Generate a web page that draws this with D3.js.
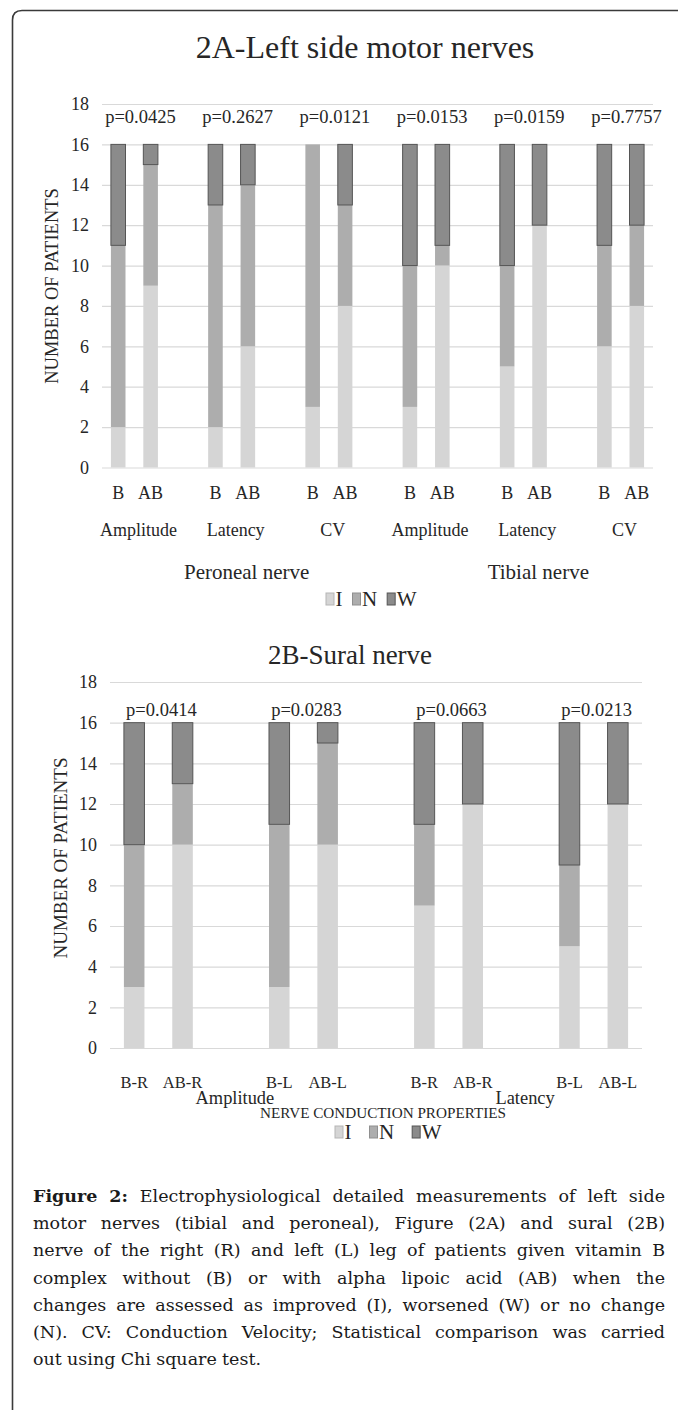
<!DOCTYPE html>
<html><head><meta charset="utf-8">
<script src="https://cdn.jsdelivr.net/npm/d3@7"></script>
<style>body{margin:0;background:#fff} svg{display:block}</style>
</head><body>
<svg id="fig" width="678" height="1410"></svg>
<script>
// ---------------- data ----------------
const topGroups = ["Amplitude","Latency","CV","Amplitude","Latency","CV"];
const topNerves = ["Peroneal nerve","Tibial nerve"];
const topTreat = ["B","AB"];
const topP = ["p=0.0425","p=0.2627","p=0.0121","p=0.0153","p=0.0159","p=0.7757"];
const topI = [2,9, 2,6, 3,8, 3,10, 5,12, 6,8];
const topN = [9,6, 11,8, 13,5, 7,1, 5,0, 5,4];
const topW = [5,1, 3,2, 0,3, 6,5, 6,4, 5,4];

const botGroups = ["Amplitude","Latency"];
const botTreat = ["B-R","AB-R","B-L","AB-L"];
const botP = ["p=0.0414","p=0.0283","p=0.0663","p=0.0213"];
const botI = [3,10, 3,10, 7,12, 5,12];
const botN = [7,3, 8,5, 4,0, 4,0];
const botW = [6,3, 5,1, 5,4, 7,4];

const yTicks = [0,2,4,6,8,10,12,14,16,18];
const seriesKeys = ["I","N","W"];
const seriesColor = {I:"#d5d5d5", N:"#adadad", W:"#8b8b8b"};
const seriesStroke = {I:"#b5b5b5", N:"#8f8f8f", W:"#555555"};

const captionLines = [
  "Figure 2: Electrophysiological detailed measurements of left side",
  "motor nerves (tibial and peroneal), Figure (2A) and sural (2B)",
  "nerve of the right (R) and left (L) leg of patients given vitamin B",
  "complex without (B) or with alpha lipoic acid (AB) when the",
  "changes are assessed as improved (I), worsened (W) or no change",
  "(N). CV: Conduction Velocity; Statistical comparison was carried",
  "out using Chi square test."
];

// ---------------- drawing ----------------
const svg = d3.select("#fig");
const SERIF = "'Liberation Serif','Times New Roman',serif";
const TXT = "#262626";

// frame
svg.append("path")
  .attr("d","M12.5,1410 V20 Q12.5,10.5 22,10.5 H678")
  .attr("fill","none").attr("stroke","#3a3a3a").attr("stroke-width",1.6);

function drawChart(o){
  const g = svg.append("g");
  const bars = [], slots = [];
  o.pairs.forEach((labs,p)=>{
    labs.forEach((lab,j)=>{
      const i = bars.length;
      const key = "b"+i;
      slots.push(key);
      bars.push({key, pair:p, label:lab, I:o.I[i], N:o.N[i], W:o.W[i]});
    });
    if(p < o.pairs.length-1) slots.push("gap"+p);
  });
  const x = d3.scaleBand().domain(slots).range([o.x0,o.x1])
    .paddingInner(o.pad).paddingOuter(o.pad/2);
  const y = d3.scaleLinear().domain([0,18]).range([o.yBase,o.yTop]);

  const ax = g.append("g").attr("transform",`translate(${o.x0},0)`)
    .call(d3.axisLeft(y).tickValues(yTicks).tickSize(-(o.x1-o.x0)).tickPadding(o.tickPad));
  ax.select(".domain").remove();
  ax.selectAll(".tick line").attr("stroke","#d9d9d9").attr("stroke-width",1.2);
  ax.selectAll(".tick text").attr("font-family",SERIF).attr("font-size",o.tickFont).attr("fill",TXT);

  const stack = d3.stack().keys(seriesKeys)(bars);
  stack.forEach(layer=>{
    g.append("g").selectAll("rect").data(layer.filter(d=>d[1]-d[0]>0)).join("rect")
      .attr("x",d=>x(d.data.key)).attr("width",x.bandwidth())
      .attr("y",d=>y(d[1])).attr("height",d=>y(d[0])-y(d[1]))
      .attr("fill",seriesColor[layer.key])
      .attr("stroke",layer.key==="W"?seriesStroke.W:"none")
      .attr("stroke-width",layer.key==="W"?1:0);
  });

  const cx = k => x(k)+x.bandwidth()/2;
  const pairCenter = p => {
    const bs = bars.filter(b=>b.pair===p);
    return (cx(bs[0].key)+cx(bs[bs.length-1].key))/2;
  };

  g.append("g").selectAll("text").data(o.pvals).join("text")
    .attr("x",(d,p)=>pairCenter(p)+o.pOff).attr("y",o.pY)
    .attr("text-anchor","middle").attr("font-family",SERIF)
    .attr("font-size",18.5).attr("fill",TXT).text(d=>d);

  g.append("g").selectAll("text").data(bars).join("text")
    .attr("x",d=>cx(d.key)).attr("y",o.lab1Y)
    .attr("text-anchor","middle").attr("font-family",SERIF)
    .attr("font-size",o.lab1Font).attr("fill",TXT).text(d=>d.label);

  return {x,y,bars,cx,pairCenter,g};
}

// ---- Chart 2A ----
svg.append("text").attr("x",365).attr("y",58).attr("text-anchor","middle")
  .attr("font-family",SERIF).attr("font-size",32).attr("fill",TXT)
  .text("2A-Left side motor nerves");

const cA = drawChart({
  pairs: topGroups.map(()=>topTreat),
  I: topI, N: topN, W: topW,
  x0:102, x1:653, yBase:467.5, yTop:104, pad:0.55, tickPad:13, tickFont:18,
  pvals: topP, pOff:6, pY:123, lab1Y:499, lab1Font:18
});
cA.g.append("g").selectAll("text").data(topGroups).join("text")
  .attr("x",(d,p)=>cA.pairCenter(p)+4).attr("y",536)
  .attr("text-anchor","middle").attr("font-family",SERIF)
  .attr("font-size",18).attr("fill",TXT).text(d=>d);
cA.g.append("g").selectAll("text").data(topNerves).join("text")
  .attr("x",(d,n)=>d3.mean([0,1,2].map(k=>cA.pairCenter(n*3+k)))+15).attr("y",579)
  .attr("text-anchor","middle").attr("font-family",SERIF)
  .attr("font-size",21).attr("fill",TXT).text(d=>d);
svg.append("text").attr("transform","translate(58,286) rotate(-90)")
  .attr("text-anchor","middle").attr("font-family",SERIF)
  .attr("font-size",18.5).attr("fill",TXT).text("NUMBER OF PATIENTS");

// ---- Chart 2B ----
svg.append("text").attr("x",350).attr("y",664).attr("text-anchor","middle")
  .attr("font-family",SERIF).attr("font-size",27).attr("fill",TXT)
  .text("2B-Sural nerve");

const cB = drawChart({
  pairs: [0,1,2,3].map(p=>p%2===0?[botTreat[0],botTreat[1]]:[botTreat[2],botTreat[3]]),
  I: botI, N: botN, W: botW,
  x0:110, x1:642, yBase:1048, yTop:682, pad:0.575, tickPad:13, tickFont:18,
  pvals: botP, pOff:3, pY:716, lab1Y:1088, lab1Font:16.5
});
cB.g.append("g").selectAll("text").data(botGroups).join("text")
  .attr("x",(d,n)=>(cB.pairCenter(n*2)+cB.pairCenter(n*2+1))/2+4).attr("y",1104)
  .attr("text-anchor","middle").attr("font-family",SERIF)
  .attr("font-size",18.4).attr("fill",TXT).text(d=>d);
svg.append("text").attr("x",383).attr("y",1118).attr("text-anchor","middle")
  .attr("font-family",SERIF).attr("font-size",15.2).attr("fill",TXT)
  .text("NERVE CONDUCTION PROPERTIES");
svg.append("text").attr("transform","translate(67,858) rotate(-90)")
  .attr("text-anchor","middle").attr("font-family",SERIF)
  .attr("font-size",19).attr("fill",TXT).text("NUMBER OF PATIENTS");

// ---- legends ----
function legend(startX, cy, gap){
  const lg = svg.append("g");
  let xx = startX;
  seriesKeys.forEach(k=>{
    lg.append("rect").attr("x",xx).attr("y",cy-6).attr("width",8).attr("height",12)
      .attr("fill",seriesColor[k]).attr("stroke",seriesStroke[k]).attr("stroke-width",1);
    const t = lg.append("text").attr("x",xx+9.5).attr("y",cy+7)
      .attr("font-family",SERIF).attr("font-size",21).attr("fill",TXT).text(k);
    xx += 9.5 + t.node().getComputedTextLength() + gap;
  });
}
legend(326, 599, 10);
legend(335, 1132, 18);

// ---- caption (justified) ----
const CAP_FONT = "'DejaVu Serif',serif";
const capX0 = 33, capX1 = 665, capY0 = 1202, capDY = 27.2, capFS = 17.5;
captionLines.forEach((line,li)=>{
  const words = line.split(" ");
  const last = li === captionLines.length-1;
  const nodes = words.map((w,wi)=>{
    const bold = li===0 && wi<2;
    return svg.append("text").attr("y",capY0+li*capDY)
      .attr("font-family",CAP_FONT).attr("font-size",capFS)
      .attr("font-weight",bold?"bold":"normal").attr("fill","#1a1a1a").text(w);
  });
  const widths = nodes.map(n=>n.node().getComputedTextLength());
  const total = d3.sum(widths);
  const gap = last ? capFS*0.3 : (capX1-capX0-total)/(words.length-1);
  let xx = capX0;
  nodes.forEach((n,i)=>{ n.attr("x",xx); xx += widths[i]+gap; });
});
</script>
</body></html>
